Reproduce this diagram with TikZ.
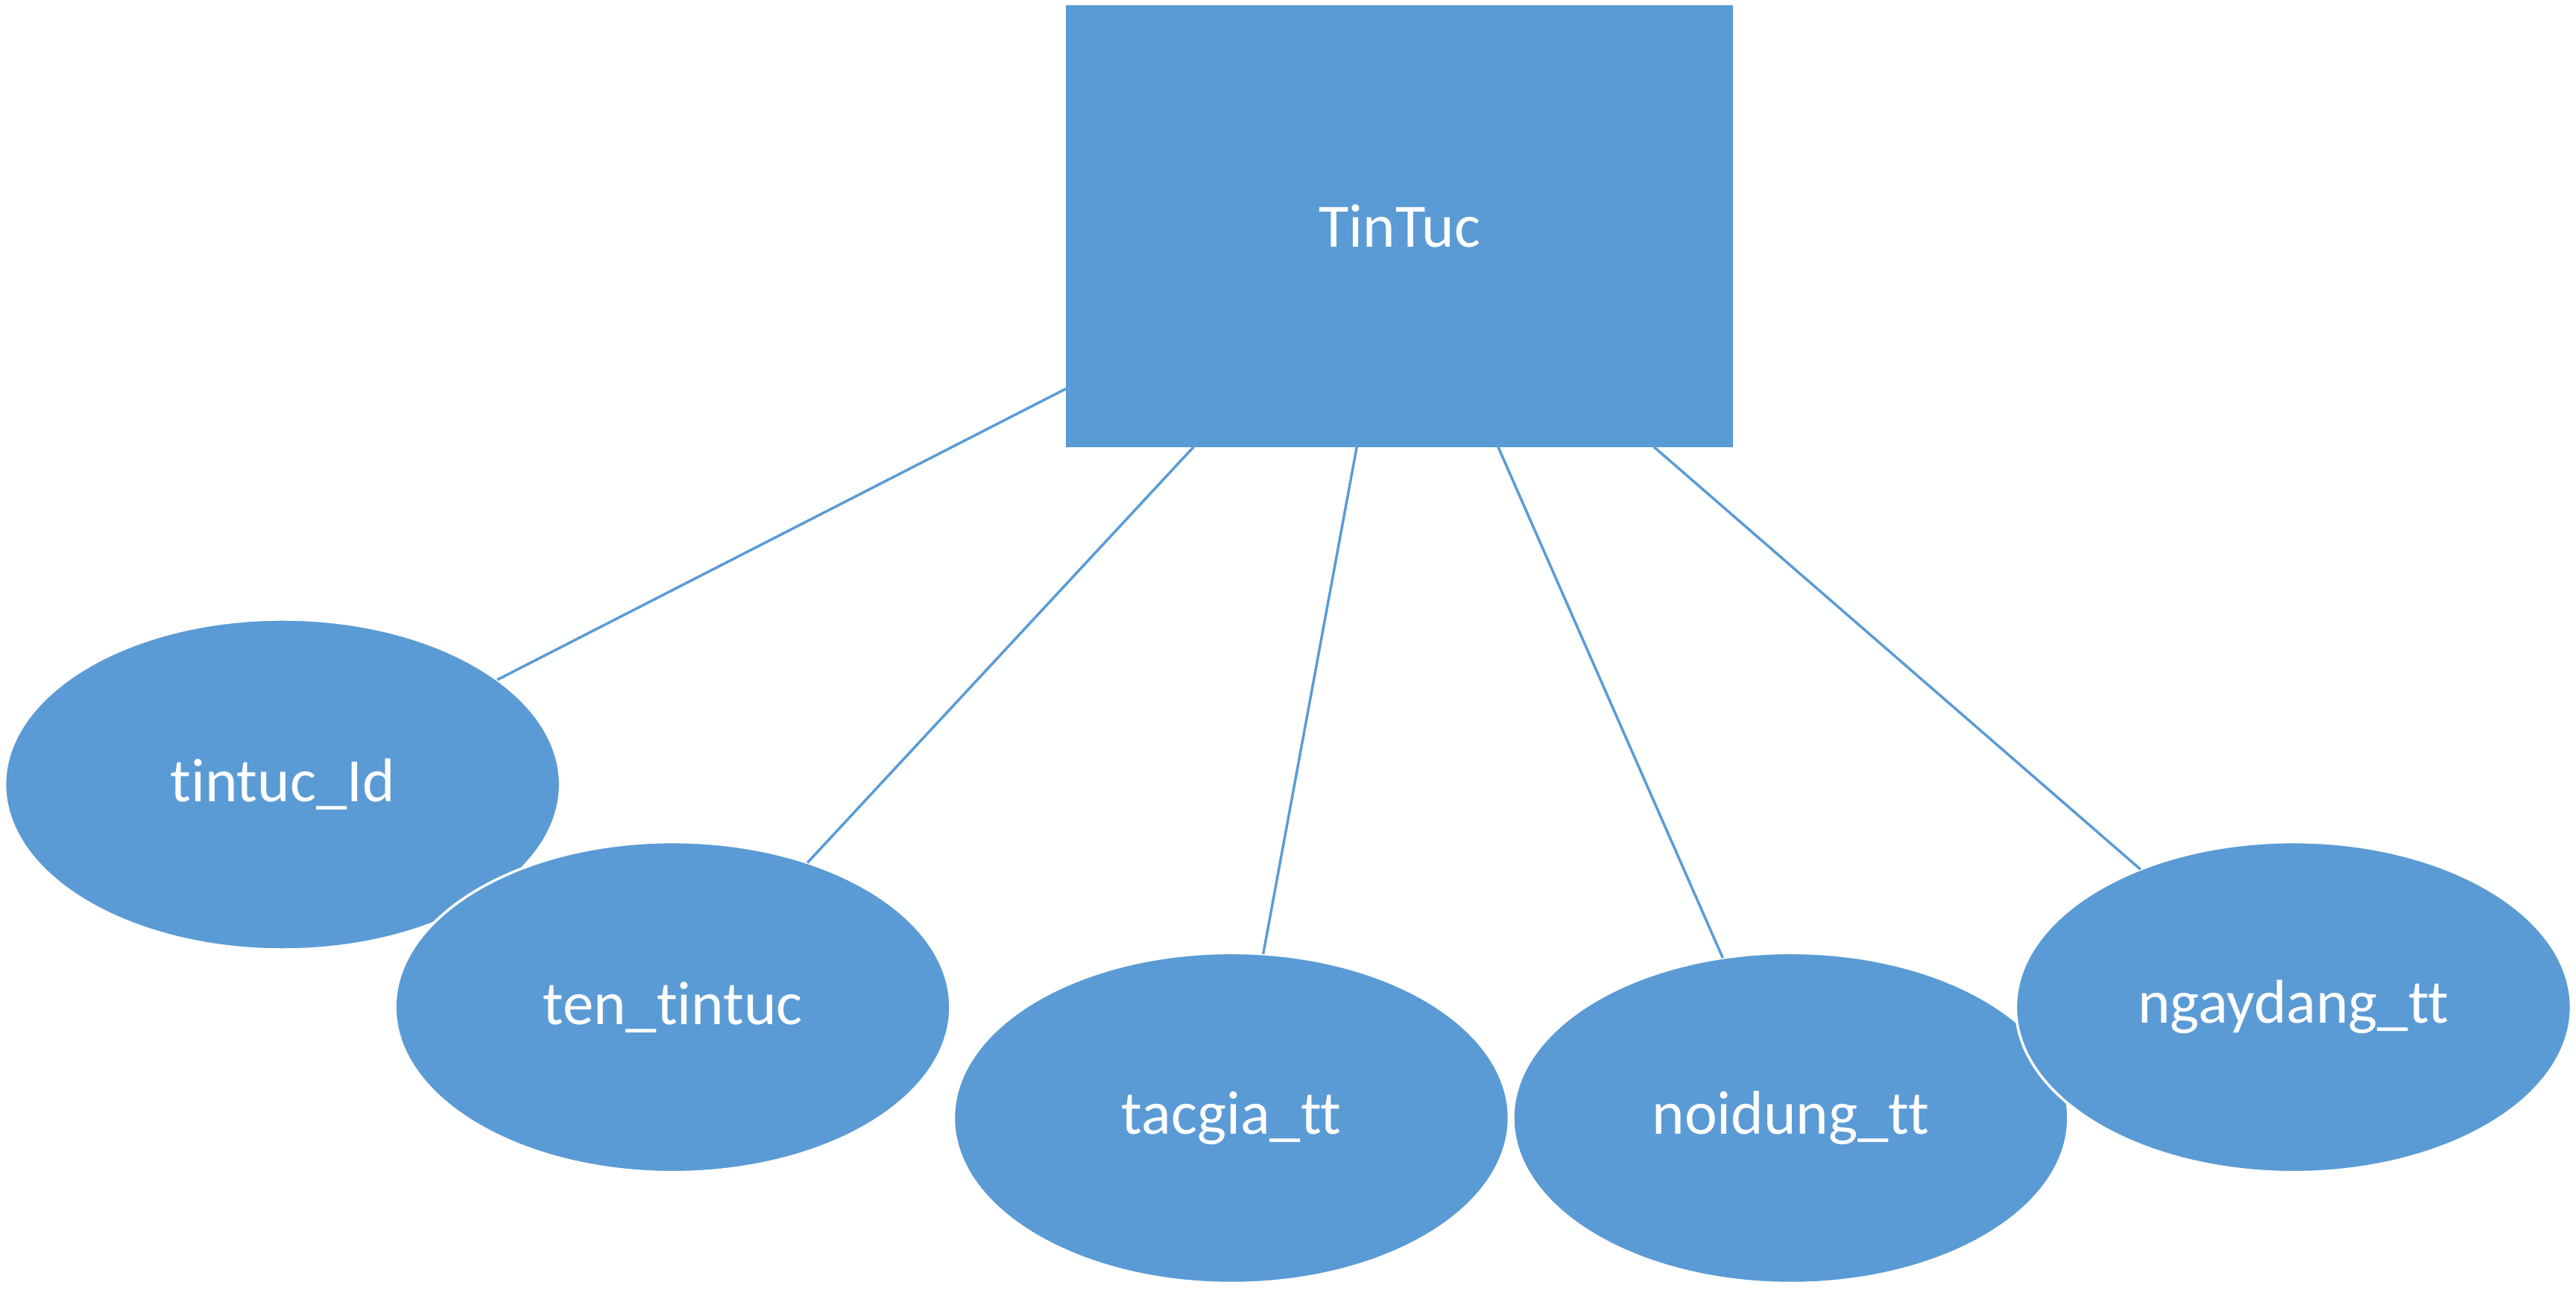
\documentclass[tikz,border=0pt]{standalone}
\usepackage{fontspec}
\setmainfont[Ligatures={NoCommon}]{Carlito}
\usetikzlibrary{shapes.geometric}
\definecolor{erblue}{HTML}{5B9BD5}

\begin{document}
\begin{tikzpicture}
[
x=0.1mm, y=-0.1mm,
entity-a/.style={rectangle, fill=erblue, minimum width = 40.6mm, minimum height = 26.9mm, inner sep=0pt, outer sep=0pt},
attr-a/.style={ellipse, fill=erblue, draw=white, line width=0.45pt, minimum width = 33.8mm, minimum height = 20.1mm, inner sep=0pt, outer sep=0pt},
text-a/.style={text=white, font=\fontsize{10.7}{13}\selectfont},
link-a/.style={draw=erblue, line width=0.45pt}
]
\useasboundingbox (0,0) rectangle (1568,785.4);
\node (tintuc)      [entity-a, text-a] at (852.0,137.5) {TinTuc};
\node (tintuc-id)   [attr-a,   text-a] at (172.0,477.5) {tintuc\_Id};
\node (ten-tintuc)  [attr-a,   text-a] at (409.5,613.0) {ten\_tintuc};
\node (tacgia-tt)   [attr-a,   text-a] at (749.5,680.5) {tacgia\_tt};
\node (noidung-tt)  [attr-a,   text-a] at (1090.0,680.5) {noidung\_tt};
\node (ngaydang-tt) [attr-a,   text-a] at (1396.0,613.0) {ngaydang\_tt};
\draw [link-a] (tintuc.206.6) -- (tintuc-id.26.9);
\draw [link-a] (tintuc.227.4) -- (ten-tintuc.47.8);
\draw [link-a] (tintuc.259.8) -- (tacgia-tt.79.8);
\draw [link-a] (tintuc.294.8) -- (noidung-tt.113.9);
\draw [link-a] (tintuc.319.2) -- (ngaydang-tt.138.8);
\end{tikzpicture}
\end{document}
